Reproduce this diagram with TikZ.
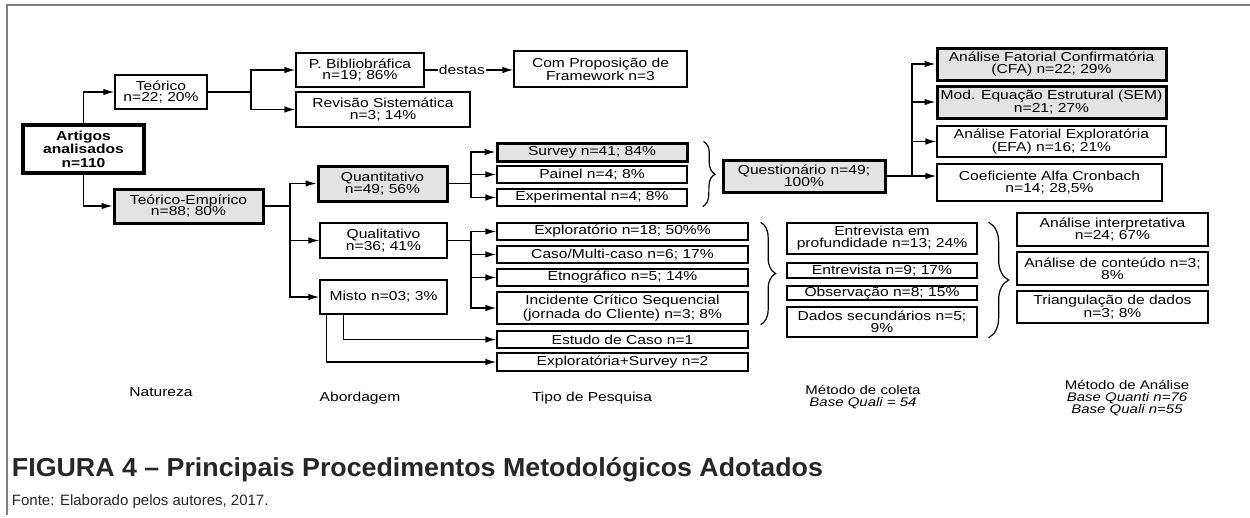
\documentclass[tikz,border=0pt]{standalone}
\usepackage{fontspec}
\setmainfont{Liberation Sans}[FakeStretch=1.2]
\newfontfamily\titlefont{Liberation Sans}[FakeStretch=1.03]
\newfontfamily\notefont{Liberation Sans}
\usepackage{tikz}
\usetikzlibrary{shapes,arrows.meta,decorations.pathreplacing}
\definecolor{boxgrey}{gray}{0.89}
\definecolor{framegrey}{gray}{0.5}
\newcommand{\boxfont}{\fontsize{13}{11.8}\selectfont}
\tikzset{
	thinbox/.style  = {draw, rectangle, line width=1.3pt, align=center,
		inner sep=1pt, font=\boxfont},
	heavybox/.style = {thinbox, line width=3.5pt},
	greybox/.style  = {thinbox, line width=3pt, fill=boxgrey},
	dims/.style 2 args = {minimum width=#1, minimum height=#2},
	colhead/.style  = {align=center, font=\boxfont}, % column names
	curly/.style    = {decorate, decoration={brace, amplitude=#1}, line width=1.2pt}
}

\begin{document}
\begin{tikzpicture}[x=1pt, y=-1pt, line width=1.3pt, >={Latex[length=11pt, width=6.5pt]}]
	\useasboundingbox (0,0) rectangle (1250,517);
	\draw[framegrey, line width=1.5pt] (7,515) -- (7,5) -- (1250,5);

	% Natureza
	\draw
	node at (83.5,149)[heavybox, dims={121}{48}, font=\fontsize{13}{13.5}\selectfont\bfseries] (art) {Artigos\\analisados\\n=110}
	node at (161,92)[thinbox, dims={92}{34}] (teo) {Teórico\\n=22; 20\%}
	node at (188.5,206)[greybox, dims={149}{34}] (te) {Teórico-Empírico\\n=88; 80\%};

	% Abordagem
	\draw
	node at (360,70)[thinbox, dims={128}{34}] (pbib) {P. Bibliobráfica\\n=19; 86\%}
	node at (383,109.5)[thinbox, dims={174}{35}] (rev) {Revisão Sistemática\\n=3; 14\%}
	node at (600.5,69)[thinbox, dims={173}{36}] (frame) {Com Proposição de\\Framework n=3}
	node at (382.5,183.5)[greybox, dims={129}{35}] (quant) {Quantitativo\\n=49; 56\%}
	node at (383.5,240.5)[thinbox, dims={127}{35}] (qual) {Qualitativo\\n=36; 41\%}
	node at (383.5,297)[thinbox, dims={127}{34}] (misto) {Misto n=03; 3\%};

	% Tipo de Pesquisa
	\draw
	node at (592,152)[greybox, dims={190}{18}] (surv) {Survey n=41; 84\%}
	node at (592,174.5)[thinbox, dims={190}{17}] (pain) {Painel n=4; 8\%}
	node at (592,197.5)[thinbox, dims={190}{17}] (expe) {Experimental n=4; 8\%}
	node at (622.5,231.5)[thinbox, dims={251}{17}] (explo) {Exploratório n=18; 50\%\%}
	node at (622.5,254.5)[thinbox, dims={251}{17}] (caso) {Caso/Multi-caso n=6; 17\%}
	node at (622.5,277.5)[thinbox, dims={251}{17}] (etno) {Etnográfico n=5; 14\%}
	node at (622.5,308)[thinbox, dims={251}{32}] (inci) {Incidente Crítico Sequencial\\(jornada do Cliente) n=3; 8\%}
	node at (622.5,339.5)[thinbox, dims={251}{17}] (estu) {Estudo de Caso n=1}
	node at (622.5,362)[thinbox, dims={251}{18}] (exsu) {Exploratória+Survey n=2};

	% Metodo de coleta
	\draw
	node at (804,176)[greybox, dims={162}{32}] (quest) {Questionário n=49;\\100\%}
	node at (882,238.5)[thinbox, dims={190}{31}] (entp) {Entrevista em\\profundidade n=13; 24\%}
	node at (882,270.5)[thinbox, dims={190}{15}] (entr) {Entrevista n=9; 17\%}
	node at (882,293)[thinbox, dims={190}{14}] (obse) {Observação n=8; 15\%}
	node at (882,322)[thinbox, dims={190}{30}] (dado) {Dados secundários n=5;\\9\%};

	% Metodo de analise
	\draw
	node at (1051.5,64)[greybox, dims={229}{32}] (cfa) {Análise Fatorial Confirmatória\\(CFA) n=22; 29\%}
	node at (1051.5,102)[greybox, dims={229}{32}] (sem) {Mod. Equação Estrutural (SEM)\\n=21; 27\%}
	node at (1051.5,141.5)[thinbox, dims={229}{31}] (efa) {Análise Fatorial Exploratória\\(EFA) n=16; 21\%}
	node at (1049.5,182.5)[thinbox, dims={225}{37}] (alfa) {Coeficiente Alfa Cronbach\\n=14; 28,5\%}
	node at (1112.5,229.5)[thinbox, dims={191}{33}] (ainterp) {Análise interpretativa\\n=24; 67\%}
	node at (1112.5,268.5)[thinbox, dims={191}{33}] (acont) {Análise de conteúdo n=3;\\8\%}
	node at (1112.5,307)[thinbox, dims={191}{32}] (trian) {Triangulação de dados\\n=3; 8\%};

	\coordinate (jt) at (251,92);
	\coordinate (je) at (290,206);
	\coordinate (jq) at (471,183.5);
	\coordinate (jl) at (471,240.5);
	\coordinate (jm) at (912,176);

	\draw[->] (art.north) |- (teo.west);
	\draw[->] (art.south) |- (te.west);
	\draw (teo.east) -- (jt);
	\draw[->] (jt) |- (pbib.west);
	\draw[->] (jt) |- (rev.west);
	\draw[->] (pbib.east) -- node[pos=0.42, fill=white, inner sep=1pt, font=\boxfont] {destas} (pbib.east -| frame.west);
	\draw (te.east) -- (je);
	\draw[->] (je) |- (quant.west);
	\draw[->] (je) |- (qual.west);
	\draw[->] (je) |- (misto.west);
	\draw (quant.east) -- (jq);
	\draw[->] (jq) |- (surv.west);
	\draw[->] (jq) |- (pain.west);
	\draw[->] (jq) |- (expe.west);
	\draw (qual.east) -- (jl);
	\draw[->] (jl) |- (explo.west);
	\draw[->] (jl) |- (caso.west);
	\draw[->] (jl) |- (etno.west);
	\draw[->] (jl) |- (inci.west);
	\draw[->] ([xshift=24pt]misto.south west) |- (estu.west);
	\draw[->] ([xshift=7pt]misto.south west) |- (exsu.west);
	\draw[->] (quest.east) -- (quest.east -| alfa.west);
	\draw[->] (jm) |- (cfa.west);
	\draw[->] (jm) |- (sem.west);
	\draw[->] (jm) |- (efa.west);

	\draw[curly=12pt] ([xshift=15pt]surv.north east) -- ([xshift=15pt]expe.south east);
	\draw[curly=15pt] ([xshift=12pt]explo.north east) -- ([xshift=12pt]inci.south east);
	\draw[curly=20pt] ([xshift=11pt]entp.north east) -- ([xshift=11pt]dado.south east);

	\draw
	node at (161,392)[colhead] (nat) {Natureza}
	node at (360,398)[colhead] (abo) {Abordagem}
	node at (592,398)[colhead] (tipo) {Tipo de Pesquisa}
	node at (863,397)[colhead, font=\fontsize{12.5}{11.7}\selectfont] (col) {Método de coleta\\\textit{Base Quali = 54}}
	node at (1127,398)[colhead, font=\fontsize{12.5}{11.7}\selectfont] (ana) {Método de Análise\\\textit{Base Quanti n=76}\\\textit{Base Quali n=55}};

	\node[anchor=base west, font=\titlefont\fontsize{26}{28}\selectfont\bfseries, text=black!85] (tit) at (8,476) {FIGURA 4 – Principais Procedimentos Metodológicos Adotados};
	\node[anchor=base west, font=\notefont\fontsize{15}{17}\selectfont, text=black!85] (fon) at (8,505) {Fonte: Elaborado pelos autores, 2017.};
\end{tikzpicture}
\end{document}
